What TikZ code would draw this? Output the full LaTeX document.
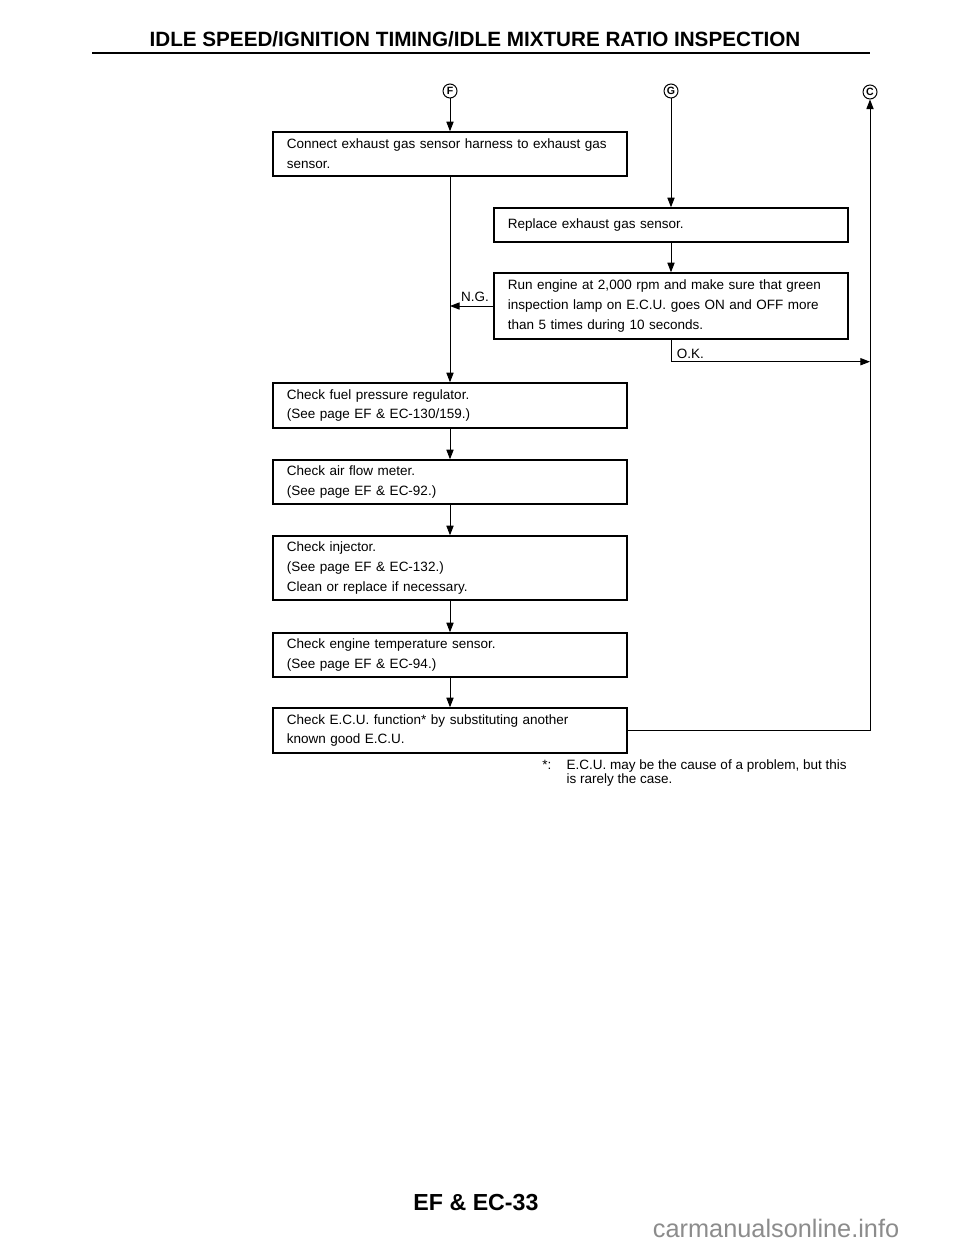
\documentclass[tikz,border=0pt]{standalone}
\usepackage{fontspec}
\setmainfont{Liberation Sans}
\usetikzlibrary{arrows.meta,positioning,calc}
\tikzset{
  box/.style={draw=black,line width=1pt,align=left,text width=8.15cm,
              inner xsep=0.35cm,inner ysep=2pt,font=\fontsize{9.6}{14}\selectfont},
  tag/.style={circle,draw=black,line width=0.7pt,inner sep=0pt,minimum size=3.5mm,
              font=\fontsize{7.5}{8}\selectfont\bfseries},
  arr/.style={-{Triangle[length=2.4mm,width=1.8mm]},line width=0.7pt},
  lbl/.style={font=\fontsize{9.6}{11}\selectfont,inner sep=1pt}
}
\begin{document}
\begin{tikzpicture}[x=0.025cm,y=-0.025cm]
    \fill[white] (0,0) rectangle (960,1242);
    \useasboundingbox (0,0) rectangle (960,1242);
    % heading
    \node[font=\fontsize{14.7}{17}\selectfont\bfseries] (title) at (475,39)
         {IDLE SPEED/IGNITION TIMING/IDLE MIXTURE RATIO INSPECTION};
    \draw[line width=1.8pt] (92,53) -- (870,53);
    % entry points
    \node[tag] (cF) at (450,91) {F};
    \node[tag] (cG) at (671,91) {G};
    \node[tag] (cC) at (870,92) {C};
    % steps
    \node[box,minimum height=1.1cm] (conn) at (450,154)
         {Connect exhaust gas sensor harness to exhaust gas\\sensor.};
    \node[box,minimum height=0.85cm] (repl) at (671,225) {Replace exhaust gas sensor.};
    \node[box,minimum height=1.65cm] (run) at (671,306)
         {Run engine at 2,000 rpm and make sure that green\\inspection lamp on E.C.U. goes ON and OFF more\\than 5 times during 10 seconds.};
    \node[box,minimum height=1.125cm] (fuel) at (450,405.5)
         {Check fuel pressure regulator.\\(See page EF \& EC-130/159.)};
    \node[box,minimum height=1.1cm] (air) at (450,482)
         {Check air flow meter.\\(See page EF \& EC-92.)};
    \node[box,minimum height=1.6cm] (inj) at (450,568)
         {Check injector.\\(See page EF \& EC-132.)\\Clean or replace if necessary.};
    \node[box,minimum height=1.1cm] (temp) at (450,655)
         {Check engine temperature sensor.\\(See page EF \& EC-94.)};
    \node[box,minimum height=1.125cm] (ecu) at (450,730.5)
         {Check E.C.U. function* by substituting another\\known good E.C.U.};
    % connectors
    \draw[arr] (cF) -- (conn);
    \draw[arr] (cG) -- (repl);
    \draw[arr] (repl) -- (run);
    \draw[arr] (conn.south) -- (fuel.north);
    \foreach \a/\b in {fuel/air,air/inj,inj/temp,temp/ecu} \draw[arr] (\a) -- (\b);
    \draw[arr] (run.west) -- (run.west -| conn.south);
    \node[lbl,anchor=south east] (ng) at ([xshift=-2pt,yshift=2pt]run.west) {N.G.};
    \coordinate (okc) at ($(run.south)+(0,22)$);
    \draw[arr] (run.south) -- (okc) -- (okc -| cC);
    \node[lbl,anchor=south west] (ok) at ([xshift=3pt,yshift=1pt]okc) {O.K.};
    \draw[arr] (ecu.east) -| (cC.south);
    % footnote
    \node[lbl,anchor=east] (star) at (553,765) {*:};
    \node[lbl,anchor=north west,align=left,font=\fontsize{9.6}{10.2}\selectfont] (note) at (565,758)
         {E.C.U. may be the cause of a problem, but this\\is rarely the case.};
    % page number
    \node[font=\fontsize{16.5}{19}\selectfont\bfseries] (page) at (476,1203) {EF \& EC-33};
    \node[font=\fontsize{18}{20}\selectfont,text=black!45,anchor=west] (wm) at (648,1228) {carmanualsonline.info};
\end{tikzpicture}
\end{document}
